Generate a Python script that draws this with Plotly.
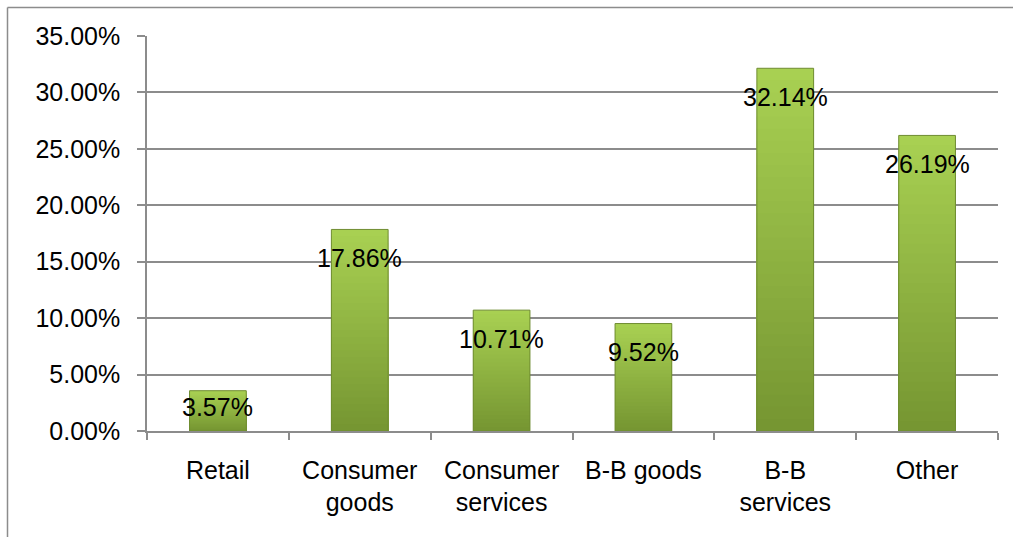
import plotly.graph_objects as go

# Share of respondents by sector (%)
categories = ["Retail", "Consumer<br>goods", "Consumer<br>services", "B-B goods", "B-B<br>services", "Other"]
shares = [3.57, 17.86, 10.71, 9.52, 32.14, 26.19]
value_labels = ["3.57%", "17.86%", "10.71%", "9.52%", "32.14%", "26.19%"]
y_ticks = [0, 5, 10, 15, 20, 25, 30, 35]

W, H = 1013, 537
L, R, T, B = 147, 15, 36, 106
FONT = "Liberation Sans, Arial, sans-serif"
FS = 25

fig = go.Figure()

# vertical shading: stacked overlays, darker toward the bottom of each bar
steps = 30
light = (168, 208, 82)
dark = (118, 150, 50)
for k in range(steps):
    frac = 1 - k / steps
    t = k / (steps - 1)
    col = tuple(round(light[i] + (dark[i] - light[i]) * t) for i in range(3))
    fig.add_trace(go.Bar(
        x=categories,
        y=[v * frac for v in shares],
        width=0.4,
        marker=dict(color="rgb(%d,%d,%d)" % col, line=dict(width=0)),
        hoverinfo="skip",
        showlegend=False,
    ))

# outline of each bar
fig.add_trace(go.Bar(
    x=categories, y=shares, width=0.4,
    marker=dict(color="rgba(0,0,0,0)", line=dict(color="#6f8c31", width=1)),
    showlegend=False,
))

# value labels near the top of each bar
for c, v, lab in zip(categories, shares, value_labels):
    fig.add_annotation(
        x=c, y=max(v - 2.55, 0.6 * v), text=lab, showarrow=False,
        xanchor="center", yanchor="middle",
        font=dict(family=FONT, size=FS, color="black"),
    )

# chart frame (left and top edges)
def px_x(p):
    return (p - L) / (W - L - R)

def px_y(p):
    return 1 - (p - T) / (H - T - B)

fig.add_shape(type="line", xref="paper", yref="paper",
              x0=px_x(7.5), x1=px_x(7.5), y0=px_y(7.5), y1=px_y(540),
              line=dict(color="#8c8c8c", width=1.5))
fig.add_shape(type="line", xref="paper", yref="paper",
              x0=px_x(7.5), x1=px_x(1020), y0=px_y(7.5), y1=px_y(7.5),
              line=dict(color="#8c8c8c", width=1.5))

fig.update_layout(
    width=W, height=H,
    margin=dict(l=L, r=R, t=T, b=B, pad=0),
    barmode="overlay",
    plot_bgcolor="white", paper_bgcolor="white",
    font=dict(family=FONT, size=FS, color="black"),
    showlegend=False,
)
fig.update_xaxes(
    type="category",
    showline=True, linecolor="#8c8c8c", linewidth=1.5,
    ticks="outside", ticklen=7, tickcolor="#8c8c8c", tickwidth=1.5,
    tickson="boundaries", showgrid=False,
    ticklabelstandoff=16,
    tickfont=dict(family=FONT, size=FS, color="black"),
)
fig.update_yaxes(
    range=[0, 35], tickvals=y_ticks,
    ticktext=["%.2f%%" % v for v in y_ticks],
    showline=True, linecolor="#8c8c8c", linewidth=1.5,
    ticks="outside", ticklen=8, tickcolor="#8c8c8c", tickwidth=1.5,
    showgrid=True, gridcolor="#8c8c8c", gridwidth=1.5,
    zeroline=False,
    ticklabelstandoff=12,
    tickfont=dict(family=FONT, size=FS, color="black"),
)

fig.write_html("out.html")
